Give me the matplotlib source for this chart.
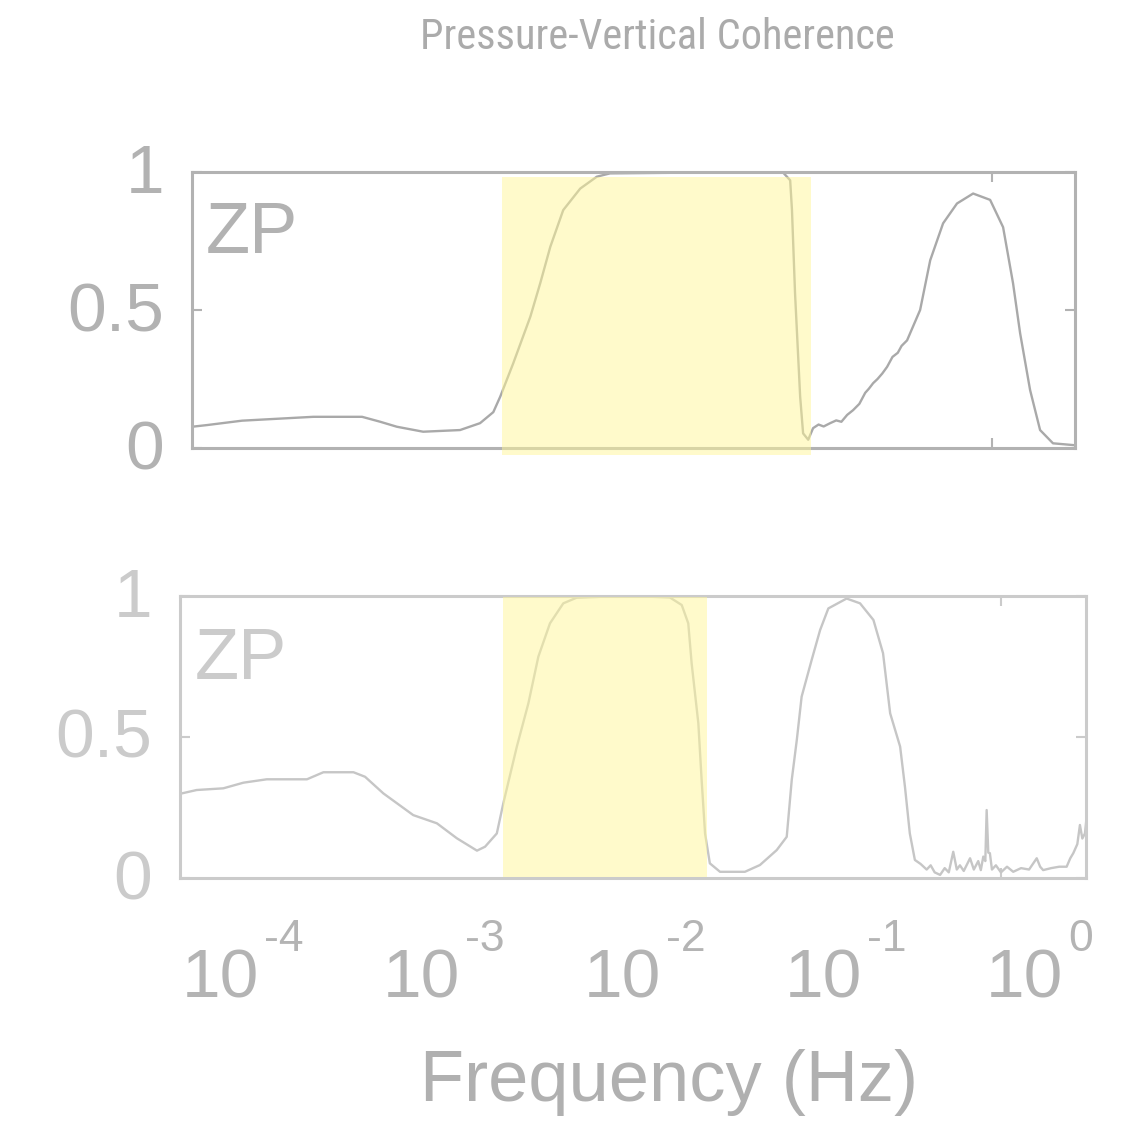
import matplotlib
matplotlib.use('Agg')
import matplotlib.pyplot as plt
from matplotlib import font_manager
from matplotlib.patches import Rectangle
from matplotlib.ticker import NullLocator
from matplotlib.transforms import blended_transform_factory, ScaledTranslation

names = {f.name for f in font_manager.fontManager.ttflist}
TITLE_FONT, TITLE_SIZE = 'Roboto', 27
for cand in ['Roboto Condensed', 'Liberation Sans Narrow', 'Open Sans Condensed', 'Arial Narrow']:
    if cand in names:
        TITLE_FONT, TITLE_SIZE = cand, 30.5
        break
FONT = 'Liberation Sans'

# ---------------- data ----------------
title = 'Pressure-Vertical Coherence'
panel_label = 'ZP'
x_label = 'Frequency (Hz)'
y_ticks = [0, 0.5, 1]
y_tick_labels = ['0', '0.5', '1']
x_decades = [1e-4, 1e-3, 1e-2, 1e-1, 1e0]
x_exponents = ['-4', '-3', '-2', '-1', '0']
x_limits = (8.22e-5, 2.65)

top_freq = [8.22e-5, 9.79e-5, 1.48e-4, 3.42e-4, 6.07e-4, 7.52e-4, 9.14e-4, 1.245e-3,
            1.92e-3, 2.43e-3, 2.84e-3, 3.08e-3, 3.59e-3, 4.39e-3, 4.93e-3, 5.55e-3,
            6.46e-3, 7.89e-3, 9.59e-3, 1.12e-2, 3.16e-2, 0.0857, 0.0931, 0.0951,
            0.0986, 0.1047, 0.1084, 0.1151, 0.1219, 0.130, 0.138, 0.149, 0.160,
            0.170, 0.182, 0.195, 0.210, 0.225, 0.235, 0.247, 0.260, 0.275, 0.291,
            0.310, 0.330, 0.345, 0.368, 0.429, 0.483, 0.562, 0.662, 0.80, 0.977,
            1.138, 1.279, 1.39, 1.563, 1.758, 2.046, 2.65]
top_coh = [0.077, 0.083, 0.099, 0.113, 0.113, 0.095, 0.077, 0.059,
           0.065, 0.09, 0.13, 0.186, 0.307, 0.476, 0.597, 0.729,
           0.862, 0.94, 0.983, 0.995, 0.998, 0.998, 0.97, 0.862,
           0.56, 0.186, 0.053, 0.03, 0.072, 0.085, 0.078, 0.09, 0.10,
           0.095, 0.12, 0.137, 0.16, 0.20, 0.215, 0.235, 0.25, 0.27, 0.294,
           0.33, 0.345, 0.37, 0.39, 0.5, 0.68, 0.814, 0.886, 0.922, 0.899,
           0.8, 0.597, 0.416, 0.21, 0.065, 0.017, 0.01]
top_band = (3.15e-3, 0.119)

bot_freq = [8.39e-5, 9.95e-5, 1.35e-4, 1.70e-4, 2.22e-4, 3.52e-4, 4.25e-4, 6.00e-4,
            6.85e-4, 8.45e-4, 1.19e-3, 1.56e-3, 1.96e-3, 2.47e-3, 2.71e-3, 3.10e-3,
            3.34e-3, 3.90e-3, 4.45e-3, 4.99e-3, 5.70e-3, 6.64e-3, 7.74e-3, 1.2e-2,
            1.7e-2, 2.25e-2, 2.58e-2, 2.78e-2, 2.89e-2, 3.12e-2, 3.24e-2, 3.37e-2,
            3.56e-2, 4.00e-2, 5.32e-2, 6.32e-2, 7.66e-2, 8.59e-2, 9.10e-2, 9.64e-2,
            0.1019, 0.1143, 0.1259, 0.1384, 0.1706, 0.199, 0.232, 0.259, 0.281,
            0.315, 0.333, 0.352, 0.373, 0.398, 0.427, 0.447, 0.468, 0.498, 0.525,
            0.550, 0.579, 0.603, 0.625, 0.653, 0.702, 0.733, 0.771, 0.794, 0.817,
            0.836, 0.849, 0.865, 0.881, 0.902, 0.944, 1.0, 1.072, 1.151, 1.259,
            1.380, 1.507, 1.567, 1.622, 1.778, 1.950, 2.123, 2.213, 2.291, 2.399,
            2.472, 2.541, 2.618, 2.655]
bot_coh = [0.300, 0.312, 0.318, 0.338, 0.350, 0.350, 0.375, 0.375,
           0.359, 0.300, 0.223, 0.194, 0.141, 0.097, 0.111, 0.158,
           0.265, 0.466, 0.619, 0.785, 0.903, 0.974, 0.994, 0.999,
           0.998, 0.995, 0.968, 0.903, 0.761, 0.549, 0.348, 0.158,
           0.052, 0.022, 0.022, 0.046, 0.099, 0.146, 0.348, 0.489,
           0.643, 0.773, 0.879, 0.956, 0.991, 0.974, 0.915, 0.797, 0.584,
           0.466, 0.323, 0.158, 0.064, 0.05, 0.03, 0.045, 0.02, 0.011, 0.035,
           0.02, 0.093, 0.03, 0.045, 0.025, 0.07, 0.03, 0.06, 0.028, 0.076,
           0.06, 0.241, 0.09, 0.088, 0.03, 0.045, 0.02, 0.04, 0.022, 0.035,
           0.03, 0.07, 0.04, 0.028, 0.035, 0.04, 0.04, 0.07, 0.088, 0.12,
           0.188, 0.14, 0.158, 0.2]
bot_band = (3.33e-3, 0.0345)

# ---------------- styles ----------------
DPI = 100
fig = plt.figure(figsize=(11.38, 11.22), dpi=DPI)
W, H = 1138, 1122

top_col = '#b2b2b2'
top_line = '#a9a9a9'
bot_col = '#cbcbcb'
bot_line = '#c6c6c6'
band_col = '#fff799'


def px_axes(left, top, right, bottom):
    return fig.add_axes([left / W, 1 - bottom / H, (right - left) / W, (bottom - top) / H])


def style_axes(ax, col, fs=50):
    ax.set_xscale('log')
    ax.set_xlim(*x_limits)
    ax.set_ylim(0, 1)
    ax.set_xticks([1.0])
    ax.set_xticklabels([])
    ax.xaxis.set_minor_locator(NullLocator())
    ax.set_yticks(y_ticks)
    ax.set_yticklabels(y_tick_labels, fontsize=fs, color=col, family=FONT)
    ax.tick_params(axis='both', direction='in', length=7, width=1.5, color=col,
                   top=True, right=True, pad=20)
    up = ScaledTranslation(0, 4 / DPI, fig.dpi_scale_trans)
    for lab in ax.get_yticklabels():
        lab.set_transform(lab.get_transform() + up)
    for s in ax.spines.values():
        s.set_color(col)
        s.set_linewidth(2.2)
    ax.set_facecolor('white')


ax1 = px_axes(192, 172, 1075, 448)
style_axes(ax1, top_col)
ax1.plot(top_freq, top_coh, color=top_line, lw=1.7, zorder=2)
tr1 = blended_transform_factory(ax1.transData, ax1.transAxes)
ax1.add_patch(Rectangle((top_band[0], -0.025), top_band[1] - top_band[0], 1.007,
                        transform=tr1, facecolor=band_col, edgecolor='none',
                        alpha=0.5, zorder=4, clip_on=False))
ax1.text(0.016, 0.706, panel_label, transform=ax1.transAxes, fontsize=52,
         color=top_col, family=FONT, va='baseline', ha='left')

ax2 = px_axes(180, 596, 1086, 878)
style_axes(ax2, bot_col)
ax2.plot(bot_freq, bot_coh, color=bot_line, lw=1.7, zorder=2)
tr2 = blended_transform_factory(ax2.transData, ax2.transAxes)
ax2.add_patch(Rectangle((bot_band[0], 0.004), bot_band[1] - bot_band[0], 0.994,
                        transform=tr2, facecolor=band_col, edgecolor='none',
                        alpha=0.5, zorder=4, clip_on=False))
ax2.text(0.0166, 0.706, panel_label, transform=ax2.transAxes, fontsize=52,
         color=bot_col, family=FONT, va='baseline', ha='left')

# x tick labels (10 with superscript exponent) under the lower axes
lab_col = '#b4b4b4'
base_tr = blended_transform_factory(ax2.transData, fig.transFigure)
for dec, ex in zip(x_decades, x_exponents):
    t10 = base_tr + ScaledTranslation(-15 / DPI, 0, fig.dpi_scale_trans)
    fig.text(dec, (H - 997) / H, '10', transform=t10, fontsize=50, color=lab_col,
             family=FONT, ha='left', va='baseline')
    tex = base_tr + ScaledTranslation(67 / DPI, 0, fig.dpi_scale_trans)
    fig.text(dec, (H - 951) / H, ex, transform=tex, fontsize=32, color=lab_col,
             family=FONT, ha='left', va='baseline')

fig.text(669.5 / W, (H - 1101) / H, x_label, fontsize=52, color='#b0b0b0',
         family=FONT, ha='center', va='baseline')

fig.text(657 / W, (H - 49) / H, title, fontsize=TITLE_SIZE, color='#ababab',
         family=TITLE_FONT, ha='center', va='baseline')

fig.savefig('out.png', dpi=DPI, facecolor='white')
